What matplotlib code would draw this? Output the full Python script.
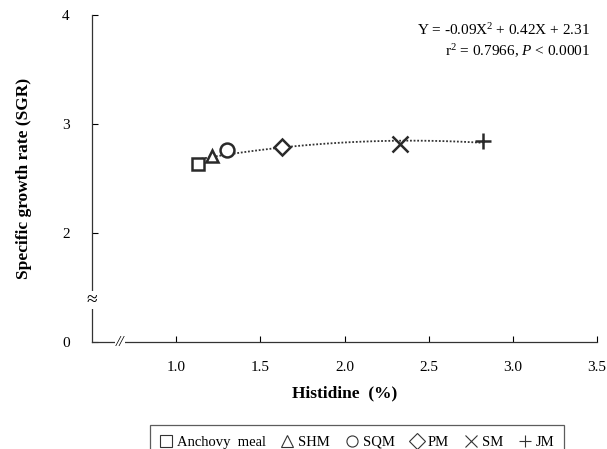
import matplotlib
matplotlib.use('Agg')
import matplotlib.pyplot as plt
from matplotlib.lines import Line2D
import numpy as np

plt.rcParams['font.family'] = 'Liberation Serif'
plt.rcParams['mathtext.fontset'] = 'custom'
plt.rcParams['mathtext.rm'] = 'Liberation Serif'
plt.rcParams['mathtext.it'] = 'Liberation Serif:italic'

# data
groups = ['Anchovy  meal', 'SHM', 'SQM', 'PM', 'SM', 'JM']
markers = ['s', '^', 'o', 'D', 'x', '+']
histidine = [1.13, 1.21, 1.30, 1.63, 2.33, 2.82]
sgr = [2.63, 2.71, 2.76, 2.79, 2.82, 2.84]
sizes = [9, 9, 10, 8, 11, 12]

x_ticks = [1.0, 1.5, 2.0, 2.5, 3.0, 3.5]
y_ticks = [1, 2, 3, 4]
y_ticklabels = ['0', '2', '3', '4']

fig = plt.figure(figsize=(6.07, 4.49), dpi=100)
ax = fig.add_axes([92 / 607, 1 - 342 / 449, (597 - 92) / 607, (342 - 15) / 449])

# quadratic trend line
coef = np.polyfit(histidine, sgr, 2)
xs = np.linspace(min(histidine), max(histidine), 100)
ax.plot(xs, np.polyval(coef, xs), ls=(0, (1, 1)), color='#333333', lw=1.3, zorder=2)

for xv, yv, m, s in zip(histidine, sgr, markers, sizes):
    ax.plot(xv, yv, marker=m, ms=s, mfc='white', mec='#2a2a2a', mew=1.8,
            ls='none', zorder=3)

ax.set_xlim(0.5, 3.5)
ax.set_ylim(1, 4)
ax.set_xticks(x_ticks)
ax.set_xticklabels(['%.1f' % t for t in x_ticks])
ax.set_yticks(y_ticks)
ax.set_yticklabels(y_ticklabels)
ax.tick_params(direction='in', labelsize=11, length=4, width=0.8)
ax.tick_params(axis='y', pad=16)
ax.tick_params(axis='x', pad=14)
for side in ['top', 'right']:
    ax.spines[side].set_visible(False)
for side in ['left', 'bottom']:
    ax.spines[side].set_linewidth(0.9)
    ax.spines[side].set_color('#333333')

# axis breaks
ax.text(0.5, 1.385, '\u2248', ha='center', va='center', fontsize=14,
        bbox=dict(fc='white', ec='none', pad=0.3), clip_on=False)
ax.text(0.665, 1.0, '//', ha='center', va='center', fontsize=11, style='italic',
        bbox=dict(fc='white', ec='none', pad=0.5), clip_on=False)

ax.set_xlabel('Histidine  (%)', fontsize=12.5, fontweight='bold', labelpad=8)
ax.set_ylabel('Specific growth rate (SGR)', fontsize=12.5, fontweight='bold', labelpad=22)

ax.text(3.46, 3.86, 'Y = -0.09X$^2$ + 0.42X + 2.31', ha='right', va='center', fontsize=11)
ax.text(3.46, 3.67, 'r$^2$ = 0.7966, $P$ < 0.0001', ha='right', va='center', fontsize=11)

handles = [Line2D([], [], marker=m, ls='none', ms=8, mfc='white', mec='#333333', mew=0.8)
           for m in markers]
leg = fig.legend(handles, groups, loc='upper center', ncol=6,
                 bbox_to_anchor=(357 / 607, 1 - 418 / 449), fontsize=10.5,
                 frameon=True, fancybox=False, edgecolor='#333333',
                 handlelength=0.8, handletextpad=0.35, columnspacing=1.1,
                 borderpad=0.7)
leg.get_frame().set_linewidth(0.9)

plt.savefig('out.png', dpi=100)
